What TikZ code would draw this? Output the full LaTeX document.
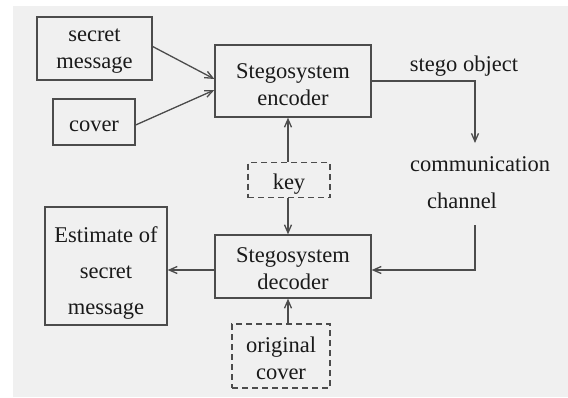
\documentclass[tikz,border=0pt]{standalone}
\usepackage{fontspec}
\setmainfont{Liberation Serif}
\usetikzlibrary{arrows.meta}
\definecolor{bggray}{HTML}{F0F0F0}
\definecolor{linec}{HTML}{4C4C4C}
\definecolor{textc}{HTML}{1A1A1A}
\begin{document}
\begin{tikzpicture}[x=1pt,y=-1pt,
  box/.style={draw=linec,line width=1.3pt,rectangle,inner sep=0pt},
  dbox/.style={box,dash pattern=on 6pt off 4pt},
  lbl/.style={inner sep=0pt,text=textc,align=center,font=\fontsize{22.5}{27}\selectfont},
  intext/.style={lbl,yshift=-4pt},
  conn/.style={draw=linec,line width=1.3pt,-{Straight Barb[length=8pt,width=7pt]}}]
\useasboundingbox (0,0) rectangle (568,397);
\fill[white] (0,0) rectangle (568,397);
\fill[bggray] (13,6) rectangle (568,397);
\node[box,minimum width=115pt,minimum height=63pt,label={[intext,yshift=1pt]center:secret\\message}] (secret) at (94.5,48.5) {};
\node[box,minimum width=82pt,minimum height=46pt,label={[intext]center:cover}] (cover) at (94,122) {};
\node[box,minimum width=156pt,minimum height=72pt,label={[intext]center:Stegosystem\\encoder}] (enc) at (293,81) {};
\node[dbox,minimum width=82pt,minimum height=35pt,label={[intext]center:key}] (key) at (289,180) {};
\node[box,minimum width=156pt,minimum height=63pt,label={[intext,yshift=2pt]center:Stegosystem\\decoder}] (dec) at (293,266.5) {};
\node[box,minimum width=122pt,minimum height=118pt,label={[intext,yshift=-3pt,font=\fontsize{22.5}{36}\selectfont]center:Estimate of\\secret\\message}] (est) at (106,266) {};
\node[dbox,minimum width=98pt,minimum height=64pt,label={[intext,yshift=2pt]center:original\\cover}] (orig) at (281,356) {};
\node[lbl] (stego) at (464,66) {stego object};
\node[lbl] (comm1) at (480,164) {communication};
\node[lbl] (comm2) at (462,201) {channel};
\coordinate (cin) at (475,143);
\coordinate (cout) at (475,225);
\draw[conn] ([yshift=2pt]secret.east) -- ([yshift=2pt]enc.west);
\draw[conn] ([yshift=-3pt]cover.east) -- ([yshift=-9pt]enc.west);
\draw[conn] ([xshift=-5pt]key.north -| enc.south) -- ([xshift=-5pt]enc.south);
\draw[conn] ([xshift=-5pt]key.south -| enc.south) -- ([xshift=-5pt]dec.north);
\draw[conn] ([xshift=-5pt]orig.north -| enc.south) -- ([xshift=-5pt]dec.south);
\draw[conn] (enc.east) -| (cin);
\draw[conn] (cout) |- ([yshift=-3.5pt]dec.east);
\draw[conn] ([yshift=-3.5pt]dec.west) -- ([yshift=-4pt]est.east);
\end{tikzpicture}
\end{document}
